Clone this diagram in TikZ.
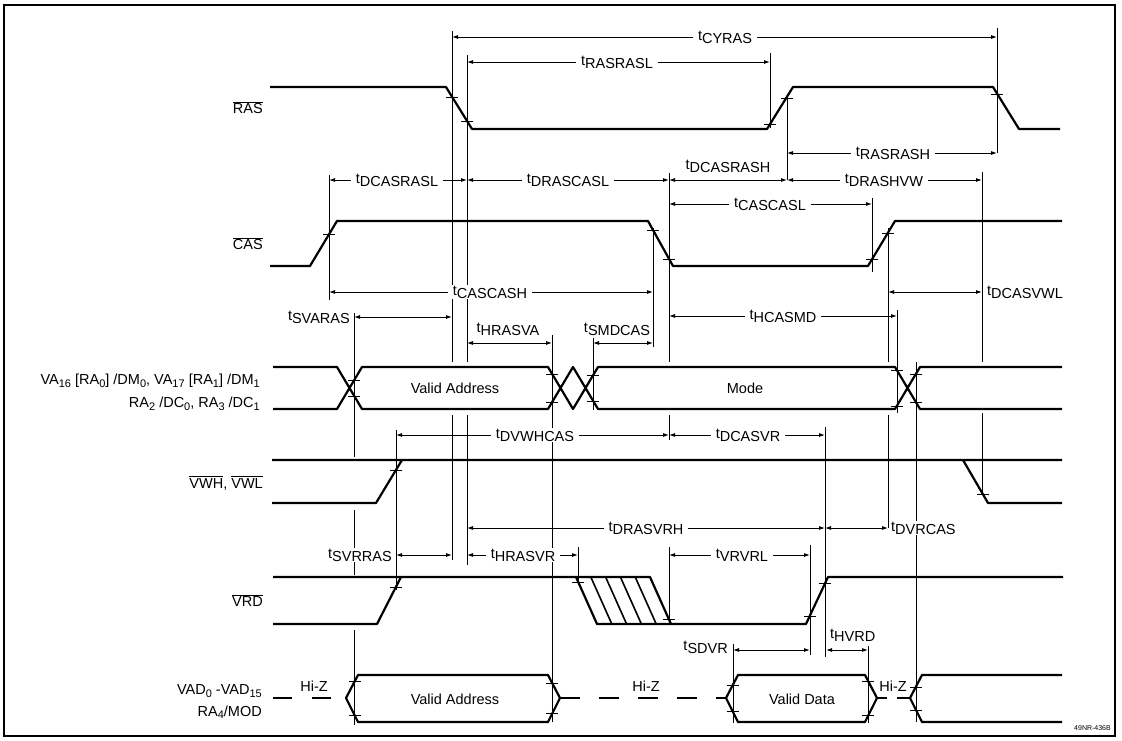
\documentclass[tikz,border=0pt]{standalone}
\usepackage{fontspec}
\setmainfont{Liberation Sans}
\usetikzlibrary{arrows.meta}

% timing label: t with lowered suffix
\newcommand{\tsub}[1]{t\raisebox{-3pt}{#1}}
% lowered index in signal names
\newcommand{\lo}[1]{\raisebox{-2.5pt}{\fontsize{11}{12}\selectfont #1}}
% active-low signal name
\newcommand{\ovl}[1]{$\overline{\hbox{#1}}$}

\begin{document}
\begin{tikzpicture}[
  x=1pt, y=-1pt,
  font=\fontsize{14.5}{17}\selectfont,
  sig/.style={line width=2.2pt, line join=round},
  refl/.style={line width=0.8pt},
  tick/.style={line width=0.9pt},
  dim/.style={line width=0.9pt, {Latex[length=6pt,width=4pt]}-{Latex[length=6pt,width=4pt]}},
  tlab/.style={fill=white, inner xsep=5pt, inner ysep=1pt},
  tside/.style={fill=white, inner sep=1pt},
  slab/.style={anchor=east, inner sep=0pt}
]
\useasboundingbox (0,0) rectangle (1122,740);

% ── Frame ───────────────────────────────────────────────────────
\draw[line width=1.4pt] (4,5) rectangle (1115,736);

% ── Reference lines (drawn first, signals on top) ───────────────
\draw[refl]
  (452,31)--(452,362)   (452,415)--(452,560)
  (467,55)--(467,362)   (467,415)--(467,565)
  (329,175)--(329,300)
  (354,313)--(354,457)  (354,510)--(354,575)  (354,630)--(354,725)
  (396,430)--(396,590)
  (552,335)--(552,722)
  (593,338)--(593,410)
  (653,228)--(653,347)
  (669,173)--(669,362)  (669,415)--(669,440)  (669,547)--(669,625)
  (770,53)--(770,128)
  (787,97)--(787,180)
  (997,28)--(997,153)
  (872,198)--(872,272)
  (888,228)--(888,362)  (888,415)--(888,528)
  (897,310)--(897,413)
  (916,362)--(916,722)
  (982,172)--(982,362)  (982,413)--(982,494)
  (825,427)--(825,657)
  (810,545)--(810,655)
  (733,644)--(733,723)
  (868,646)--(868,723)
  (578,547)--(578,585);

% ── Signal names ────────────────────────────────────────────────
\node[slab] (nras)  at (263,108) {\ovl{RAS}};
\node[slab] (ncas)  at (263,244) {\ovl{CAS}};
\node[slab] (nva)   at (260,381) {VA\lo{16} [RA\lo{0}] /DM\lo{0}, VA\lo{17} [RA\lo{1}] /DM\lo{1}};
\node[slab] (nra)   at (260,404) {RA\lo{2} /DC\lo{0}, RA\lo{3} /DC\lo{1}};
\node[slab] (nvwh)  at (263,483) {\ovl{VWH}, \ovl{VWL}};
\node[slab] (nvrd)  at (263,601) {\ovl{VRD}};
\node[slab] (nvad)  at (262,691) {VAD\lo{0} -VAD\lo{15}};
\node[slab] (nmod)  at (262,712) {RA\lo{4}/MOD};

% ── RAS ─────────────────────────────────────────────────────────
\draw[sig] (270,87)--(446,87)--(472,129)--(767,129)--(793,87)
  --(993,87)--(1019,129)--(1060,129);

% ── CAS ─────────────────────────────────────────────────────────
\draw[sig] (270,266)--(310,266)--(337,221)--(648,221)--(673,266)
  --(868,266)--(895,221)--(1062,221);

% ── Address / mode bus ──────────────────────────────────────────
\draw[sig]
  (273,367)--(337,367)--(362,409)--(548,409)--(573,367)--(598,409)
    --(895,409)--(920,367)--(1062,367)
  (273,409)--(337,409)--(362,367)--(548,367)--(573,409)--(598,367)
    --(895,367)--(920,409)--(1062,409);
\node (va1) at (455,388) {Valid Address};
\node (mode) at (745,388) {Mode};

% ── VWH, VWL ────────────────────────────────────────────────────
\draw[sig]
  (272,460)--(1062,460)
  (272,503)--(376,503)--(402,460)
  (963,460)--(988,503)--(1062,503);

% ── VRD (hatched = don't care) ──────────────────────────────────
\draw[sig]
  (273,577)--(650,577)--(671,624)
  (273,624)--(377,624)--(401,577)
  (576,577)--(597,624)--(806,624)--(828,577)--(1063,577);
\draw[line width=1.6pt]
  (590.8,577)--(611.8,624)  (605.6,577)--(626.6,624)
  (620.4,577)--(641.4,624)  (635.2,577)--(656.2,624);

% ── VAD bus ─────────────────────────────────────────────────────
\draw[sig, dash pattern=on 19pt off 20pt] (273,698)--(331,698);
\draw[sig] (346,698)--(358,675)--(548,675)--(560,698)--(548,722)--(358,722)--cycle;
\draw[sig, dash pattern=on 20pt off 19pt] (560,698)--(726,698);
\draw[sig] (726,698)--(738,675)--(865,675)--(877,698)--(865,722)--(738,722)--cycle;
\draw[sig] (877,698)--(887,698)  (897,698)--(910,698);
\draw[sig] (1062,675)--(922,675)--(910,698)--(922,722)--(1062,722);
\node (va2) at (455,699) {Valid Address};
\node (vdat) at (802,699) {Valid Data};
\node (hz1) at (314,686) {Hi-Z};
\node (hz2) at (646,686) {Hi-Z};
\node (hz3) at (893,686) {Hi-Z};

% ── Edge ticks ──────────────────────────────────────────────────
\draw[tick]
  (446,97)--(458,97)    (461,121)--(473,121)
  (764,124)--(776,124)  (781,98)--(793,98)    (991,94)--(1003,94)
  (323,234)--(335,234)  (647,230)--(659,230)  (663,259)--(675,259)
  (866,259)--(878,259)  (882,233)--(894,233)
  (348,380)--(360,380)  (348,396)--(360,396)
  (546,374)--(558,374)  (546,402)--(558,402)
  (587,375)--(599,375)  (587,401)--(599,401)
  (891,370)--(903,370)  (891,406)--(903,406)
  (910,374)--(922,374)  (910,402)--(922,402)
  (390,470)--(402,470)  (977,494)--(989,494)
  (390,587)--(402,587)  (572,582)--(584,582)  (663,619)--(675,619)
  (804,616)--(816,616)  (819,583)--(831,583)
  (349,681)--(361,681)  (349,715)--(361,715)
  (546,683)--(558,683)  (546,713)--(558,713)
  (727,685)--(739,685)  (727,711)--(739,711)
  (862,681)--(874,681)  (862,715)--(874,715)
  (910,687)--(922,687)  (910,710)--(922,710);

% ── Timing arrows, top block ────────────────────────────────────
\draw[dim] (452,37)--(997,37);
\node[tlab] (cyras) at (725,37) {\tsub{CYRAS}};
\draw[dim] (467,62)--(770,62);
\node[tlab] (rasrasl) at (617,62) {\tsub{RASRASL}};
\draw[dim] (787,153)--(997,153);
\node[tlab] (rasrash) at (893,153) {\tsub{RASRASH}};
\draw[dim] (329,180)--(467,180);
\node[tlab] (dcasrasl) at (397,180) {\tsub{DCASRASL}};
\draw[dim] (467,180)--(669,180);
\node[tlab] (drascasl) at (568,180) {\tsub{DRASCASL}};
\draw[dim] (669,180)--(787,180);
\node[tside] (dcasrash) at (728,166) {\tsub{DCASRASH}};
\draw[dim] (787,180)--(982,180);
\node[tlab] (drashvw) at (884,180) {\tsub{DRASHVW}};
\draw[dim] (669,204)--(872,204);
\node[tlab] (cascasl) at (770,204) {\tsub{CASCASL}};
\draw[dim] (329,292)--(653,292);
\node[tlab] (cascash) at (490,292) {\tsub{CASCASH}};
\draw[dim] (888,292)--(982,292);
\node[tside, anchor=west] (dcasvwl) at (986,292) {\tsub{DCASVWL}};

% ── Timing arrows, bus block ────────────────────────────────────
\draw[dim] (354,317)--(452,317);
\node[tside, anchor=east] (svaras) at (351,317) {\tsub{SVARAS}};
\draw[dim] (669,316)--(897,316);
\node[tlab] (hcasmd) at (783,316) {\tsub{HCASMD}};
\draw[dim] (467,343)--(552,343);
\node[tside] (hrasva) at (508,329) {\tsub{HRASVA}};
\draw[dim] (593,343)--(653,343);
\node[tside] (smdcas) at (617,329) {\tsub{SMDCAS}};

% ── Timing arrows, VWH / VRD block ──────────────────────────────
\draw[dim] (396,435)--(669,435);
\node[tlab] (dvwhcas) at (535,435) {\tsub{DVWHCAS}};
\draw[dim] (669,435)--(825,435);
\node[tlab] (dcasvr) at (748,435) {\tsub{DCASVR}};
\draw[dim] (467,528)--(825,528);
\node[tlab] (drasvrh) at (646,528) {\tsub{DRASVRH}};
\draw[dim] (825,528)--(888,528);
\node[tside, anchor=west] (dvrcas) at (890,528) {\tsub{DVRCAS}};
\draw[dim] (396,555)--(452,555);
\node[tside, anchor=east] (svrras) at (393,555) {\tsub{SVRRAS}};
\draw[dim] (467,555)--(578,555);
\node[tlab] (hrasvr) at (523,555) {\tsub{HRASVR}};
\draw[dim] (669,555)--(810,555);
\node[tlab] (vrvrl) at (742,555) {\tsub{VRVRL}};

% ── Timing arrows, data block ───────────────────────────────────
\draw[dim] (733,650)--(810,650);
\node[tside, anchor=east] (sdvr) at (729,647) {\tsub{SDVR}};
\draw[dim] (826,650)--(868,650);
\node[tside, anchor=west] (hvrd) at (829,635) {\tsub{HVRD}};

\node[anchor=east, inner sep=0pt, font=\fontsize{7}{8}\selectfont] (figno) at (1111,728) {49NR-436B};

\end{tikzpicture}
\end{document}
